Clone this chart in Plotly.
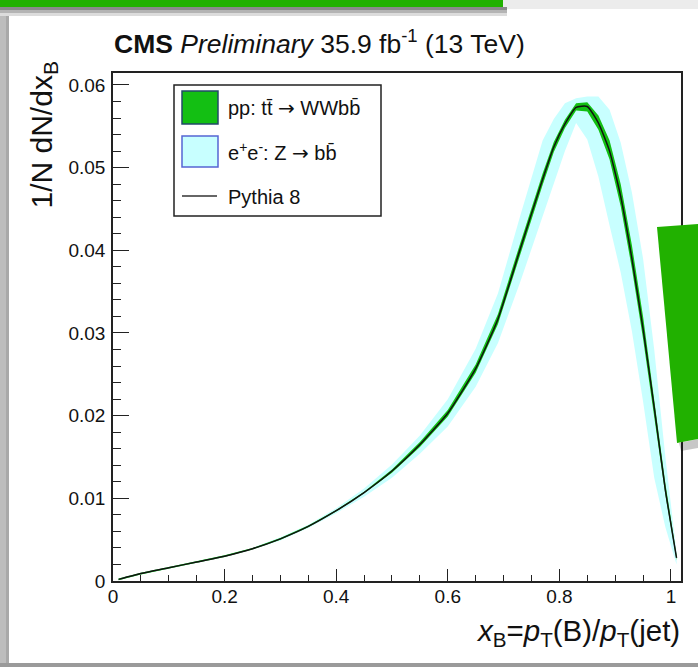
import plotly.graph_objects as go

# ---------------- data ----------------
x_b = [0.01, 0.05, 0.10, 0.15, 0.20, 0.25, 0.30, 0.35, 0.40, 0.45, 0.50, 0.55,
       0.60, 0.65, 0.69, 0.73, 0.77, 0.79, 0.81, 0.83, 0.85, 0.87, 0.89, 0.91,
       0.93, 0.95, 0.97, 0.99, 1.01]
pythia8 = [0.0002, 0.0009, 0.0016, 0.0023, 0.0030, 0.0039, 0.0051, 0.0066, 0.0085,
           0.0107, 0.0133, 0.0165, 0.0203, 0.0257, 0.0317, 0.0402, 0.0486, 0.0525,
           0.0553, 0.0573, 0.0574, 0.0554, 0.0520, 0.0465, 0.0390, 0.0305, 0.0210,
           0.0110, 0.0028]
# e+e- : Z -> bb band (upper / lower deviation from Pythia 8)
ee_up = [0.0001, 0.0001, 0.0001, 0.0001, 0.0001, 0.0001, 0.0002, 0.0002, 0.0003,
         0.0005, 0.0008, 0.0011, 0.0017, 0.0024, 0.0031, 0.0040, 0.0047, 0.0034,
         0.0025, 0.0011, 0.0012, 0.0032, 0.0050, 0.0065, 0.0080, 0.0085, 0.0070,
         0.0040, 0.0006]
ee_dn = [0.0001, 0.0001, 0.0001, 0.0001, 0.0001, 0.0001, 0.0002, 0.0002, 0.0003,
         0.0005, 0.0008, 0.0011, 0.0016, 0.0022, 0.0029, 0.0040, 0.0044, 0.0045,
         0.0033, 0.0019, 0.0040, 0.0065, 0.0090, 0.0092, 0.0088, 0.0088, 0.0085,
         0.0045, 0.0008]
# pp : tt -> WWbb band
pp_up = [0.0001, 0.0001, 0.0001, 0.0001, 0.0001, 0.0001, 0.0001, 0.0001, 0.0001,
         0.0001, 0.0002, 0.0003, 0.0004, 0.0005, 0.0006, 0.0007, 0.0007, 0.0006,
         0.0005, 0.0005, 0.0005, 0.0009, 0.0013, 0.0015, 0.0016, 0.0015, 0.0012,
         0.0008, 0.0003]
pp_dn = [0.0001, 0.0001, 0.0001, 0.0001, 0.0001, 0.0001, 0.0001, 0.0001, 0.0001,
         0.0001, 0.0002, 0.0003, 0.0004, 0.0005, 0.0006, 0.0007, 0.0007, 0.0006,
         0.0005, 0.0004, 0.0006, 0.0008, 0.0010, 0.0012, 0.0012, 0.0012, 0.0010,
         0.0006, 0.0003]

x_tickvals = [0, 0.2, 0.4, 0.6, 0.8, 1.0]
x_ticktext = ["0", "0.2", "0.4", "0.6", "0.8", "1"]
y_tickvals = [0, 0.01, 0.02, 0.03, 0.04, 0.05, 0.06]
y_ticktext = ["0", "0.01", "0.02", "0.03", "0.04", "0.05", "0.06"]

ARROW = '<span style="font-family:DejaVu Sans">\u2192</span>'
legend_labels = ["pp: tt\u0304 " + ARROW + " WWbb\u0304",
                 "e<sup>+</sup>e<sup>-</sup>: Z " + ARROW + " bb\u0304",
                 "Pythia 8"]

# ---------------- styling / layout ----------------
W, H = 698, 667
L, T, PW, PH = 113, 73, 568, 508
FONT = "Liberation Sans, Arial, Helvetica, sans-serif"
CYAN = "#c8ffff"
GREEN = "#13bf13"
SLIDE_GREEN = "#21b100"
INK = "#111111"


def px(x):
    return (x - L) / PW


def py(y):
    return (T + PH - y) / PH


def band(xs, ys, up, dn):
    upper = [y + u for y, u in zip(ys, up)]
    lower = [y - d for y, d in zip(ys, dn)]
    return xs + xs[::-1], upper + lower[::-1]


fig = go.Figure()
bx, by = band(x_b, pythia8, ee_up, ee_dn)
fig.add_trace(go.Scatter(x=bx, y=by, fill="toself", fillcolor=CYAN, mode="lines",
                         line=dict(width=0, color=CYAN), hoverinfo="skip",
                         showlegend=False, name="e+e-: Z -> bb"))
bx, by = band(x_b, pythia8, pp_up, pp_dn)
fig.add_trace(go.Scatter(x=bx, y=by, fill="toself", fillcolor=GREEN, mode="lines",
                         line=dict(width=0, color=GREEN), hoverinfo="skip",
                         showlegend=False, name="pp: tt -> WWbb"))
fig.add_trace(go.Scatter(x=x_b, y=pythia8, mode="lines",
                         line=dict(color=INK, width=1.5, shape="spline", smoothing=0.5),
                         showlegend=False, name="Pythia 8"))

shapes = []
# slide decorations
shapes.append(dict(type="rect", xref="paper", yref="paper", x0=px(0), x1=px(W),
                   y0=py(0), y1=py(9), fillcolor="#ececec", line=dict(width=0)))
shapes.append(dict(type="rect", xref="paper", yref="paper", x0=px(0), x1=px(9),
                   y0=py(0), y1=py(H), fillcolor="#bdbdbd", line=dict(width=0)))
shapes.append(dict(type="rect", xref="paper", yref="paper", x0=px(6), x1=px(9),
                   y0=py(0), y1=py(H), fillcolor="#a9a9a9", line=dict(width=0)))
for (y0, y1, c) in [(7, 10, "#8a8a8a"), (10, 13, "#b4b4b4"), (13, 16, "#dcdcdc")]:
    shapes.append(dict(type="rect", xref="paper", yref="paper", x0=px(0), x1=px(507),
                       y0=py(y0), y1=py(y1), fillcolor=c, line=dict(width=0)))
shapes.append(dict(type="rect", xref="paper", yref="paper", x0=px(0), x1=px(503),
                   y0=py(0), y1=py(7), fillcolor=SLIDE_GREEN, line=dict(width=0)))
shapes.append(dict(type="rect", xref="paper", yref="paper", x0=px(0), x1=px(W),
                   y0=py(663), y1=py(H), fillcolor="#9a9a9a", line=dict(width=0)))


def path(pts):
    return "M " + " L ".join(f"{px(a):.5f},{py(b):.5f}" for a, b in pts) + " Z"


shapes.append(dict(type="path", xref="paper", yref="paper",
                   path=path([(679, 443), (698, 439), (698, 448), (681, 451)]),
                   fillcolor="rgba(0,0,0,0.22)", line=dict(width=0)))
shapes.append(dict(type="path", xref="paper", yref="paper",
                   path=path([(657, 227), (698, 224), (698, 439), (677, 443)]),
                   fillcolor=SLIDE_GREEN, line=dict(width=0)))

# legend box
shapes.append(dict(type="rect", xref="paper", yref="paper", x0=px(174), x1=px(381),
                   y0=py(216), y1=py(85), fillcolor="white",
                   line=dict(color="#222222", width=1.5)))
shapes.append(dict(type="rect", xref="paper", yref="paper", x0=px(182), x1=px(218),
                   y0=py(124), y1=py(91), fillcolor=GREEN,
                   line=dict(color="#234a6a", width=1.5)))
shapes.append(dict(type="rect", xref="paper", yref="paper", x0=px(182), x1=px(218),
                   y0=py(167), y1=py(136), fillcolor=CYAN,
                   line=dict(color="#5566d4", width=1.5)))
shapes.append(dict(type="line", xref="paper", yref="paper", x0=px(182), x1=px(217),
                   y0=py(196), y1=py(196), line=dict(color="#333333", width=1.5)))

annotations = []
for lab, yc in zip(legend_labels, [108, 152, 197]):
    annotations.append(dict(text=lab, xref="paper", yref="paper", x=px(226), y=py(yc),
                            xanchor="left", yanchor="middle", showarrow=False,
                            font=dict(family=FONT, size=20, color=INK)))
annotations.append(dict(text="<b>CMS</b> <i>Preliminary</i> 35.9 fb<sup>-1</sup> (13 TeV)",
                        xref="paper", yref="paper", x=px(112), y=py(42),
                        xanchor="left", yanchor="middle", showarrow=False,
                        font=dict(family=FONT, size=26.5, color=INK)))
annotations.append(dict(text="<i>x</i><sub>B</sub>=<i>p</i><sub>T</sub>(B)/<i>p</i><sub>T</sub>(jet)",
                        xref="paper", yref="paper", x=px(682), y=py(632),
                        xanchor="right", yanchor="middle", showarrow=False,
                        font=dict(family=FONT, size=29.5, color=INK)))
annotations.append(dict(text="1/N dN/dx<sub>B</sub>", textangle=-90,
                        xref="paper", yref="paper", x=px(43), y=py(60),
                        xanchor="center", yanchor="top", showarrow=False,
                        font=dict(family=FONT, size=30, color=INK)))

axis_common = dict(showline=True, mirror=True, linecolor="#222222", linewidth=1.5,
                   showgrid=False, zeroline=False, ticks="inside", tickcolor="#222222",
                   tickwidth=1.3, tickfont=dict(family=FONT, size=19, color=INK),
                   fixedrange=True)

fig.update_layout(
    width=W, height=H,
    margin=dict(l=L, r=W - L - PW, t=T, b=H - T - PH),
    paper_bgcolor="white", plot_bgcolor="white",
    showlegend=False,
    shapes=shapes, annotations=annotations,
    xaxis=dict(range=[0, 1.018], tickmode="array", tickvals=x_tickvals,
               ticktext=x_ticktext, ticklen=12, ticklabelstandoff=-3,
               minor=dict(tickmode="linear", tick0=0, dtick=0.05, ticklen=6,
                          ticks="inside", tickcolor="#222222", tickwidth=1.2,
                          showgrid=False),
               **axis_common),
    yaxis=dict(range=[0, 0.06145], tickmode="array", tickvals=y_tickvals,
               ticktext=y_ticktext, ticklen=16, ticklabelstandoff=2,
               minor=dict(tickmode="linear", tick0=0, dtick=0.002, ticklen=8,
                          ticks="inside", tickcolor="#222222", tickwidth=1.2,
                          showgrid=False),
               **axis_common),
)

fig.write_html("out.html")
